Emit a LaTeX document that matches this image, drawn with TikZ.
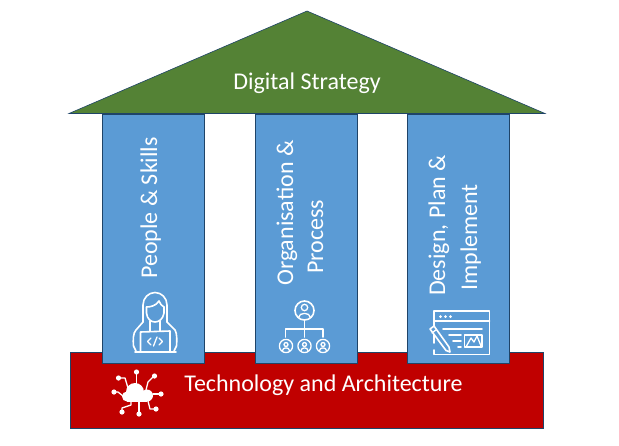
\documentclass[tikz,border=0pt]{standalone}
\usepackage{fontspec}
\setmainfont{Carlito}
\definecolor{pillarblue}{HTML}{5B9BD5}
\definecolor{pillaredge}{HTML}{1F4468}
\definecolor{roofgreen}{HTML}{548235}
\definecolor{basered}{HTML}{C00000}
\tikzset{
  pillar/.style={draw=pillaredge, line width=1pt, fill=pillarblue},
  icon/.style={draw=white, line width=1.6pt, line cap=round, line join=round},
  iconthin/.style={draw=white, line width=1.3pt, line cap=round, line join=round},
  lab/.style={text=white, font=\fontsize{24}{28.5}\selectfont, align=center, inner sep=0pt},
  vlab/.style={lab, rotate=90, anchor=base west},
}
\begin{document}
\begin{tikzpicture}[x=1pt,y=-1pt]
\useasboundingbox (0,0) rectangle (619,445);
% base
\draw[pillaredge, line width=1pt, fill=basered] (70,352) rectangle (543,428);
% pillars
\draw[pillar] (102,114) rectangle (204,363);
\draw[pillar] (255,114) rectangle (357,363);
\draw[pillar] (407,114) rectangle (509,363);
% roof
\fill[roofgreen, draw=pillaredge, line width=0.6pt] (307,11) -- (545,113.5) -- (69,113.5) -- cycle;
% labels
\node[lab] (roof) at (307,83.5) {Digital Strategy};
\node[lab] (base) at (323.5,385) {Technology and Architecture};
\node[vlab] (p1) at (157,279) {People \& Skills};
\node[vlab] (p2a) at (293,286) {Organisation \&};
\node[vlab] (p2b) at (323,274) {Process};
\node[vlab] (p3a) at (445,296) {Design, Plan \&};
\node[vlab] (p3b) at (477,291) {Implement};
% person icon
\draw[icon] (143,322) -- (143,305) arc[start angle=180,end angle=360,x radius=12,y radius=12.5] -- (167,322);
\draw[icon] (146.5,307) .. controls (150,307) and (156,306) .. (159,301) .. controls (160,304) and (162,306) .. (164,307);
\draw[icon] (146.5,307) -- (146.5,313) .. controls (147,319) and (151,322) .. (155,322) .. controls (159,322) and (163,319) .. (164,313) -- (164,307);
\draw[icon] (143,322) -- (136,330) .. controls (133,333) and (133,340) .. (133.5,346) -- (136,351);
\draw[icon] (167,322) -- (175,330) .. controls (177,333) and (177,340) .. (176.5,346) -- (174,351);
\draw[icon] (150,321) -- (150,331);
\draw[icon] (160,321) -- (160,331);
\draw[icon] (140.5,351) -- (140.5,332) -- (170,331) -- (170,351);
\draw[icon] (135,352) -- (176,352);
\draw[iconthin] (151,338) -- (147.5,341.5) -- (151,345);
\draw[iconthin] (159,338) -- (162.5,341.5) -- (159,345);
\draw[iconthin] (157,337) -- (153.5,346);
% org icon
\draw[icon] (304.5,310.5) circle[radius=9.5];
\draw[iconthin] (304.5,307.5) circle[radius=3.2];
\draw[iconthin] (298.5,317.5) .. controls (299,312) and (310,312) .. (310.5,317.5);
\draw[icon] (304.5,320) -- (304.5,337);
\draw[icon] (285.5,337) -- (285.5,329) -- (323,329) -- (323,337);
\foreach \cx in {286,304.5,323}{
  \draw[iconthin] (\cx,346) circle[radius=6.6];
  \draw[iconthin] (\cx,344.5) circle[radius=2];
  \draw[iconthin] (\cx-3.5,350.5) .. controls (\cx-3,347) and (\cx+3,347) .. (\cx+3.5,350.5);
}
% design icon
\draw[icon] (434,343) -- (434,311) -- (489.5,311) -- (489.5,354.5) -- (434,354.5) -- (434,350);
\draw[icon] (434,321) -- (489.5,321);
\fill[white] (440.5,316.5) circle[radius=1.5];
\fill[white] (445.5,316.5) circle[radius=1.5];
\fill[white] (450.5,316.5) circle[radius=1.5];
\draw[icon] (443,329) -- (482,329);
\draw[icon] (449,335) -- (461,335);
\draw[icon] (453,341) -- (461,341);
\draw[icon] (458,347) -- (461,347);
\draw[iconthin] (464.5,335) rectangle (482,347);
\draw[iconthin] (466.5,346) -- (471,338) -- (474,342) -- (477,336) -- (481,346);
\draw[icon, fill=pillarblue] (430,329) -- (434,326) -- (449,347) -- (450,352) -- (446,350.5) -- cycle;
\draw[iconthin] (432,333) -- (436.5,329.5);
% cloud icon
\draw[iconthin] (136.5,372) -- (136.5,386);
\draw[iconthin] (119,378) -- (125,378) -- (128,388);
\draw[iconthin] (154,376) -- (148,382) -- (146,390);
\draw[iconthin] (114,392) -- (118,392) -- (123,396);
\draw[iconthin] (153,394) -- (161,394);
\draw[iconthin] (122,412) -- (122,408) -- (131,405) -- (131,401);
\draw[iconthin] (139,414) -- (139,401);
\draw[iconthin] (156,409) -- (150,409) -- (148,401);
\fill[white] (135,392) circle[radius=9];
\fill[white] (127,396.5) circle[radius=5];
\fill[white] (147,395.5) circle[radius=6];
\fill[white] (127,392) rectangle (147,401.5);
\foreach \px/\py in {136.5/372,118.5/378,154.5/376,114/392,161/394,122/412,139/414,156/409}
  \fill[white] (\px,\py) circle[radius=2.6];
\end{tikzpicture}
\end{document}
